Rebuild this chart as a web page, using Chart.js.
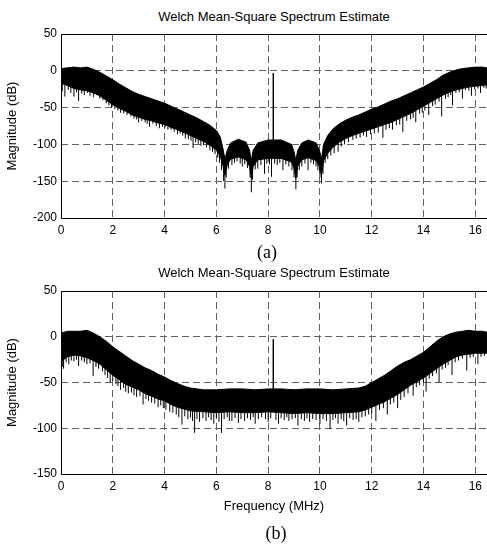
<!DOCTYPE html>
<html>
<head>
<meta charset="utf-8">
<script src="https://cdn.jsdelivr.net/npm/chart.js@4.4.1/dist/chart.umd.min.js"></script>
<style>
  body { margin: 0; background: #fff; width: 487px; height: 544px; position: relative; overflow: hidden;
         font-family: "Liberation Sans", Arial, sans-serif; }
  canvas { position: absolute; left: 0; }
  #chartA { top: 0; }
  #chartB { top: 262px; }
  .ttl { position: absolute; left: 61px; width: 426px; text-align: center; font-size: 13px; line-height: 16px; color: #000; }
  .cap { position: absolute; font-family: "Liberation Serif", "Times New Roman", serif; font-size: 18px;
         line-height: 20px; transform: translate(-50%, -50%); color: #000; }
</style>
</head>
<body>
<div class="ttl" style="top:9px">Welch Mean-Square Spectrum Estimate</div>
<canvas id="chartA" width="487" height="262"></canvas>
<div class="cap" style="left:267px;top:252px">(a)</div>
<div class="ttl" style="top:265px">Welch Mean-Square Spectrum Estimate</div>
<canvas id="chartB" width="487" height="282"></canvas>
<div class="cap" style="left:276px;top:533px">(b)</div>
<script>
// ---- data ----
// (a) top and bottom edges of the dense band, dB
const freqA = [0, 0.25, 0.5, 0.75, 1, 1.25, 1.5, 1.75, 2, 2.25,
  2.5, 2.75, 3, 3.25, 3.5, 3.75, 4, 4.25, 4.5, 4.75,
  5, 5.25, 5.5, 5.75, 6, 6.15, 6.25, 6.33, 6.42, 6.55,
  6.85, 7.15, 7.28, 7.35, 7.42, 7.6, 8.0, 8.5, 8.9, 9.0,
  9.07, 9.14, 9.3, 9.55, 9.85, 9.98, 10.06, 10.14, 10.3, 10.5,
  10.75, 11, 11.25, 11.5, 11.75, 12, 12.25, 12.5, 12.75, 13,
  13.25, 13.5, 13.75, 14, 14.25, 14.5, 14.75, 15, 15.25, 15.5,
  15.75, 16, 16.25, 16.45];
const upperA = [3, 4, 5, 4, 5, 2, -2, -7, -12, -18,
  -23, -28, -32, -35, -38, -41, -44, -48, -52, -56,
  -60, -64, -69, -74, -81, -90, -105, -120, -108, -98,
  -93, -97, -108, -122, -108, -98, -94, -94, -100, -110,
  -122, -108, -98, -94, -98, -108, -120, -100, -88, -79,
  -72, -67, -63, -60, -56, -52, -49, -45, -41, -38,
  -34, -30, -26, -22, -17, -12, -6, -2, 1, 3,
  4, 5, 5, 4];
const lowerA = [-17, -20, -24, -26, -27, -30, -34, -40, -46, -51,
  -55, -60, -63, -66, -68, -71, -73, -77, -80, -84,
  -88, -92, -96, -101, -108, -116, -128, -142, -128, -120,
  -117, -121, -130, -146, -130, -121, -119, -119, -124, -132,
  -146, -130, -121, -118, -122, -130, -142, -122, -112, -104,
  -97, -92, -88, -85, -82, -79, -76, -73, -70, -66,
  -62, -58, -53, -48, -43, -38, -33, -29, -26, -24,
  -22, -21, -20, -19];
// (a) downward spikes below the band
const spikeFreqA = [0.05, 0.15, 0.28, 0.38, 0.5, 0.6, 0.68, 0.8, 0.9, 1.02,
  1.12, 1.25, 1.38, 1.5, 1.62, 1.75, 1.85, 1.95, 2.08, 2.2,
  2.3, 2.42, 2.55, 2.7, 2.82, 2.92, 3.0, 3.12, 3.25, 3.33,
  3.42, 3.55, 3.68, 3.8, 3.92, 4.02, 4.13, 4.25, 4.37, 4.5,
  4.6, 4.7, 4.8, 4.92, 5.02, 5.1, 5.2, 5.3, 5.4, 5.5,
  5.62, 5.75, 5.85, 5.95, 6.05, 6.12, 6.2, 6.28, 6.33, 6.38,
  6.47, 6.6, 6.7, 6.8, 6.92, 7.0, 7.1, 7.2, 7.3, 7.35,
  7.4, 7.5, 7.6, 7.72, 7.86, 7.95, 8.05, 8.13, 8.25, 8.35,
  8.45, 8.57, 8.68, 8.8, 8.92, 9.0, 9.07, 9.12, 9.2, 9.3,
  9.42, 9.54, 9.65, 9.75, 9.85, 9.92, 10.0, 10.06, 10.12, 10.2,
  10.3, 10.42, 10.55, 10.7, 10.82, 10.95, 11.1, 11.27, 11.4, 11.55,
  11.68, 11.8, 11.95, 12.1, 12.25, 12.43, 12.55, 12.68, 12.8, 12.95,
  13.08, 13.2, 13.35, 13.5, 13.6, 13.7, 13.85, 13.95, 14.05, 14.2,
  14.35, 14.45, 14.6, 14.7, 14.85, 14.95, 15.05, 15.12, 15.25, 15.38,
  15.5, 15.62, 15.75, 15.85, 15.97, 16.1, 16.2, 16.33, 16.42];
const spikeDbA = [-28, -35, -26, -30, -35, -29, -41, -31, -33, -30,
  -34, -36, -33, -38, -40, -44, -47, -50, -52, -54,
  -57, -58, -60, -62, -65, -66, -70, -68, -70, -72,
  -76, -72, -75, -78, -76, -77, -80, -80, -83, -86,
  -85, -88, -92, -93, -95, -105, -97, -99, -102, -101,
  -104, -108, -110, -113, -118, -125, -135, -150, -160, -145,
  -133, -128, -125, -123, -126, -130, -127, -132, -145, -165,
  -148, -134, -133, -128, -140, -126, -127, -144, -126, -128,
  -125, -135, -127, -130, -135, -145, -161, -145, -135, -130,
  -126, -135, -125, -127, -130, -135, -145, -153, -140, -125,
  -120, -115, -112, -110, -103, -100, -97, -94, -92, -91,
  -88, -90, -86, -85, -84, -91, -80, -78, -80, -74,
  -73, -83, -68, -66, -64, -70, -58, -57, -54, -60,
  -48, -46, -42, -62, -38, -36, -33, -47, -30, -29,
  -38, -26, -27, -34, -25, -24, -30, -23, -24];

// (b) top and bottom edges of the dense band, dB
const freqB = [0, 0.25, 0.5, 0.75, 1, 1.25, 1.5, 1.75, 2, 2.25,
  2.5, 2.75, 3, 3.25, 3.5, 3.75, 4, 4.25, 4.5, 4.75,
  5, 5.5, 6, 6.5, 7, 7.5, 8, 8.5, 9, 9.5,
  10, 10.5, 11, 11.5, 11.75, 12, 12.25, 12.5, 12.75, 13,
  13.25, 13.5, 13.75, 14, 14.25, 14.5, 14.75, 15, 15.25, 15.5,
  15.75, 16, 16.25, 16.45];
const upperB = [4, 6, 6, 6, 7, 4, 0, -5, -11, -16,
  -21, -26, -30, -34, -37, -41, -44, -48, -51, -54,
  -56, -58, -58, -57, -57, -58, -57, -57, -58, -57,
  -57, -58, -57, -56, -54, -50, -46, -42, -37, -32,
  -28, -25, -21, -17, -11, -5, 0, 3, 5, 6,
  7, 6, 6, 5];
const lowerB = [-27, -22, -20, -21, -23, -26, -30, -36, -42, -47,
  -52, -55, -58, -62, -65, -68, -70, -74, -77, -79,
  -81, -82, -83, -82, -83, -83, -82, -83, -84, -83,
  -84, -84, -83, -82, -80, -77, -74, -71, -67, -63,
  -58, -53, -49, -45, -40, -35, -30, -26, -22, -20,
  -19, -18, -18, -18];
// (b) downward spikes below the band
const spikeFreqB = [0.05, 0.1, 0.2, 0.3, 0.4, 0.5, 0.6, 0.68, 0.8, 0.9,
  1.0, 1.12, 1.24, 1.35, 1.45, 1.6, 1.7, 1.8, 1.9, 2.0,
  2.12, 2.2, 2.3, 2.42, 2.5, 2.6, 2.72, 2.82, 2.92, 3.05,
  3.17, 3.28, 3.38, 3.5, 3.62, 3.75, 3.85, 3.95, 4.05, 4.2,
  4.32, 4.45, 4.55, 4.67, 4.78, 4.9, 5.0, 5.08, 5.16, 5.25,
  5.35, 5.48, 5.6, 5.7, 5.8, 5.9, 6.0, 6.1, 6.2, 6.3,
  6.42, 6.5, 6.6, 6.72, 6.85, 6.95, 7.09, 7.2, 7.32, 7.42,
  7.5, 7.62, 7.75, 7.9, 8.0, 8.1, 8.3, 8.4, 8.5, 8.62,
  8.72, 8.8, 8.92, 9.05, 9.15, 9.28, 9.4, 9.5, 9.6, 9.72,
  9.85, 10.0, 10.12, 10.25, 10.39, 10.5, 10.6, 10.7, 10.82, 10.92,
  11.03, 11.15, 11.28, 11.4, 11.5, 11.62, 11.75, 11.88, 12.0, 12.16,
  12.3, 12.45, 12.6, 12.72, 12.85, 13.0, 13.12, 13.25, 13.4, 13.6,
  13.72, 13.85, 14.0, 14.1, 14.22, 14.35, 14.5, 14.6, 14.72, 14.85,
  14.95, 15.1, 15.22, 15.35, 15.5, 15.67, 15.8, 15.92, 16.1, 16.22,
  16.35];
const spikeDbB = [-33, -35, -28, -30, -26, -27, -25, -32, -26, -28,
  -30, -29, -43, -33, -35, -38, -42, -45, -50, -48,
  -52, -54, -58, -56, -60, -62, -61, -64, -66, -65,
  -74, -68, -70, -72, -73, -77, -75, -78, -80, -82,
  -83, -85, -88, -96, -87, -90, -88, -92, -105, -90,
  -93, -89, -92, -88, -91, -95, -89, -93, -105, -90,
  -88, -92, -92, -89, -94, -90, -92, -89, -91, -88,
  -95, -90, -88, -90, -93, -89, -91, -95, -89, -91,
  -88, -92, -90, -89, -97, -90, -92, -89, -93, -90,
  -91, -95, -90, -92, -101, -91, -89, -95, -90, -92,
  -97, -89, -91, -90, -93, -88, -87, -85, -83, -92,
  -80, -78, -85, -74, -72, -78, -69, -66, -62, -64.5,
  -55, -53, -50, -60, -46, -43, -40, -50, -36, -34,
  -31, -42, -28, -26, -24, -37, -23, -22, -30, -22,
  -21];

// carrier tone at 8.2 MHz
const toneFreq = 8.2;
const toneDbA = -3;
const toneDbB = -3;

// axes
const xTicks = [0, 2, 4, 6, 8, 10, 12, 14, 16];
const xMax = 16.45;
const yTicksA = [-200, -150, -100, -50, 0, 50];
const yTicksB = [-150, -100, -50, 0, 50];

const FONT = '"Liberation Sans", Arial, sans-serif';

// band edge value at f (only used to anchor the upper end of a spike)
function edgeAt(freq, vals, f) {
  for (let i = 1; i < freq.length; i++) {
    if (f <= freq[i]) {
      const t = (f - freq[i - 1]) / (freq[i] - freq[i - 1]);
      return vals[i - 1] + t * (vals[i] - vals[i - 1]);
    }
  }
  return vals[vals.length - 1];
}

// solid axis box on top/left/bottom (right side is cut off in the original)
const frame = {
  id: 'frame',
  afterDatasetsDraw(chart) {
    const { ctx, chartArea: { left, top, bottom, right } } = chart;
    const l = Math.round(left) + 0.5, t = Math.round(top) + 0.5, b = Math.round(bottom) + 0.5;
    ctx.save();
    ctx.strokeStyle = '#000';
    ctx.lineWidth = 1;
    ctx.beginPath();
    ctx.moveTo(right + 2, t);
    ctx.lineTo(l, t);
    ctx.lineTo(l, b);
    ctx.lineTo(right + 2, b);
    ctx.stroke();
    ctx.restore();
  }
};

function makeChart(id, freq, upper, lower, sf, sd, toneDb, yTicks, padTop, xHeight, xTitle) {
  const spikes = [];
  sf.forEach((f, i) => {
    spikes.push({ x: f, y: sd[i] });
    spikes.push({ x: f, y: edgeAt(freq, lower, f) + 3 });
    spikes.push({ x: f, y: null });
  });
  const tone = [{ x: toneFreq, y: toneDb }, { x: toneFreq, y: edgeAt(freq, upper, toneFreq) - 5 }];

  return new Chart(document.getElementById(id), {
    type: 'line',
    data: {
      datasets: [
        {
          data: freq.map((f, i) => ({ x: f, y: upper[i] })),
          borderColor: '#000', borderWidth: 1, backgroundColor: '#000',
          pointRadius: 0, fill: '+1', tension: 0
        },
        {
          data: freq.map((f, i) => ({ x: f, y: lower[i] })),
          borderColor: '#000', borderWidth: 1, pointRadius: 0, fill: false, tension: 0
        },
        {
          data: spikes,
          borderColor: '#000', borderWidth: 1, pointRadius: 0, fill: false, spanGaps: false
        },
        {
          data: tone,
          borderColor: '#000', borderWidth: 1, pointRadius: 0, fill: false
        }
      ]
    },
    options: {
      responsive: false,
      animation: false,
      devicePixelRatio: 1,
      layout: { padding: { top: padTop, left: 0, right: 0, bottom: 0 } },
      plugins: { legend: { display: false }, tooltip: { enabled: false } },
      scales: {
        x: {
          type: 'linear', min: 0, max: xMax,
          afterBuildTicks: (s) => { s.ticks = xTicks.map((v) => ({ value: v })); },
          afterFit: (s) => { s.height = xHeight; },
          grid: { color: '#606060', lineWidth: 1, drawTicks: false },
          border: { display: false, dash: [7, 4] },
          ticks: { color: '#000', font: { family: FONT, size: 12 }, padding: 5, maxRotation: 0, autoSkip: false },
          title: xTitle
            ? { display: true, text: xTitle, color: '#000', font: { family: FONT, size: 13 }, padding: { top: 0, bottom: 29.5 } }
            : { display: false }
        },
        y: {
          min: yTicks[0], max: yTicks[yTicks.length - 1],
          afterBuildTicks: (s) => { s.ticks = yTicks.map((v) => ({ value: v })); },
          afterFit: (s) => { s.width = 61; },
          grid: { color: '#606060', lineWidth: 1, drawTicks: false },
          border: { display: false, dash: [7, 4] },
          ticks: { color: '#000', font: { family: FONT, size: 12 }, padding: 4 },
          title: { display: true, text: 'Magnitude (dB)', color: '#000', font: { family: FONT, size: 13 }, padding: { top: 5, bottom: 0 } }
        }
      }
    },
    plugins: [frame]
  });
}

makeChart('chartA', freqA, upperA, lowerA, spikeFreqA, spikeDbA, toneDbA, yTicksA, 34, 44, null);
makeChart('chartB', freqB, upperB, lowerB, spikeFreqB, spikeDbB, toneDbB, yTicksB, 29, 70, 'Frequency (MHz)');
</script>
</body>
</html>
